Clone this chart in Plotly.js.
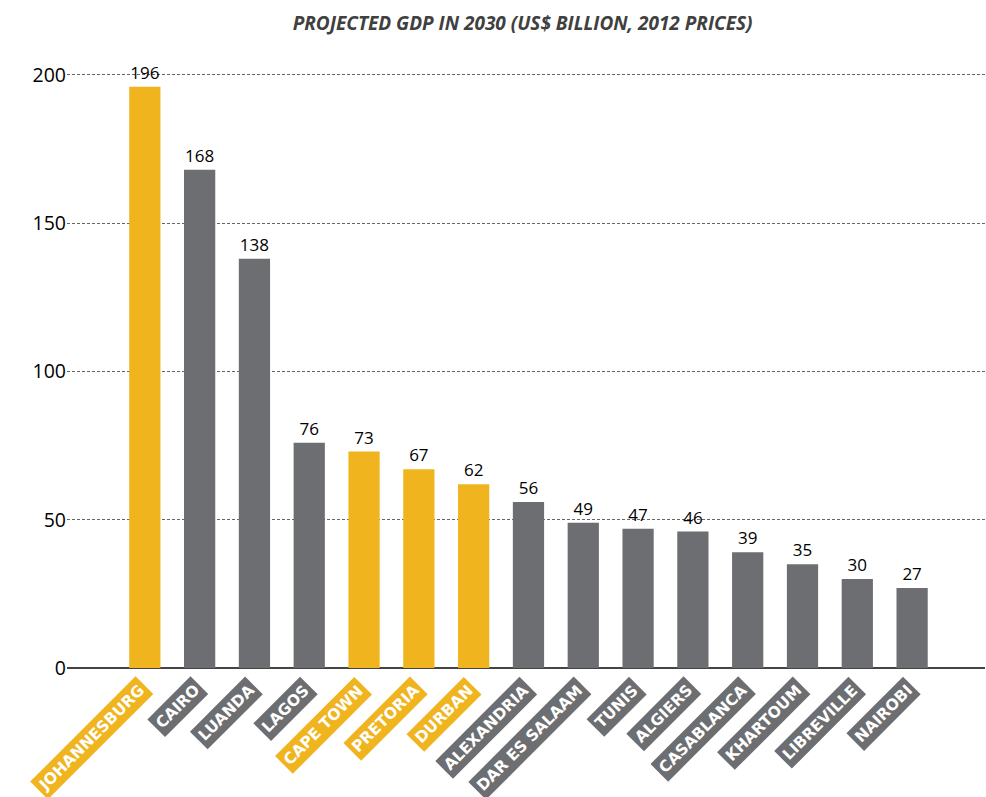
<!DOCTYPE html>
<html>
<head>
<meta charset="utf-8">
<script src="https://cdn.plot.ly/plotly-3.0.1.min.js"></script>
<style>html,body{margin:0;padding:0;background:#fff;}#chart{width:986px;height:797px;}</style>
</head>
<body>
<div id="chart"></div>
<script>
const cities = ["JOHANNESBURG","CAIRO","LUANDA","LAGOS","CAPE TOWN","PRETORIA","DURBAN","ALEXANDRIA","DAR ES SALAAM","TUNIS","ALGIERS","CASABLANCA","KHARTOUM","LIBREVILLE","NAIROBI"];
const gdp2030 = [196,168,138,76,73,67,62,56,49,47,46,39,35,30,27];
const southAfrica = [true,false,false,false,true,true,true,false,false,false,false,false,false,false,false];
const yTicks = [0,50,100,150,200];

const YELLOW = "#F0B41E";
const GREY = "#6D6E71";
const colors = southAfrica.map(s => s ? YELLOW : GREY);

const trace = {
  type: "bar",
  x: cities,
  y: gdp2030,
  marker: {color: colors, line: {width: 0}},
  width: 0.57,
  text: gdp2030.map(String),
  textposition: "outside",
  textfont: {family: "Open Sans, sans-serif", size: 17, color: "#000"},
  cliponaxis: false,
  hoverinfo: "x+y"
};

const annotations = cities.map((c, i) => ({
  x: c, xref: "x",
  y: 0, yref: "paper",
  xanchor: "right", yanchor: "top",
  xshift: 9, yshift: -8,
  text: c,
  textangle: -45,
  showarrow: false,
  bgcolor: colors[i],
  borderpad: 3,
  font: {family: "DejaVu Sans, sans-serif", size: 15.5, color: "#fff", weight: "bold"}
}));

const layout = {
  width: 986, height: 797,
  margin: {l: 67, r: 1, t: 72, b: 129},
  paper_bgcolor: "#fff", plot_bgcolor: "#fff",
  showlegend: false,
  title: {
    text: "<b><i>PROJECTED GDP IN 2030 (US$ BILLION, 2012 PRICES)</i></b>",
    x: 0.53, xanchor: "center", y: 0.971, yanchor: "middle",
    font: {family: "Open Sans, sans-serif", size: 19, color: "#404040"}
  },
  xaxis: {
    type: "category",
    range: [-1.42, 15.33],
    showticklabels: false,
    showgrid: false, zeroline: false,
    showline: false, ticks: ""
  },
  yaxis: {
    range: [0, 201],
    tickvals: yTicks,
    ticktext: yTicks.map(String),
    tickfont: {family: "Open Sans, sans-serif", size: 19.5, color: "#000"},
    showgrid: true, gridcolor: "#666", griddash: "3px,2px", gridwidth: 1,
    zeroline: true, zerolinecolor: "#444", zerolinewidth: 1.5,
    showline: false, ticks: "", ticklabelstandoff: 0
  },
  annotations: annotations,
  bargap: 0.43
};

Plotly.newPlot("chart", [trace], layout, {displayModeBar: false, staticPlot: true});
</script>
</body>
</html>
